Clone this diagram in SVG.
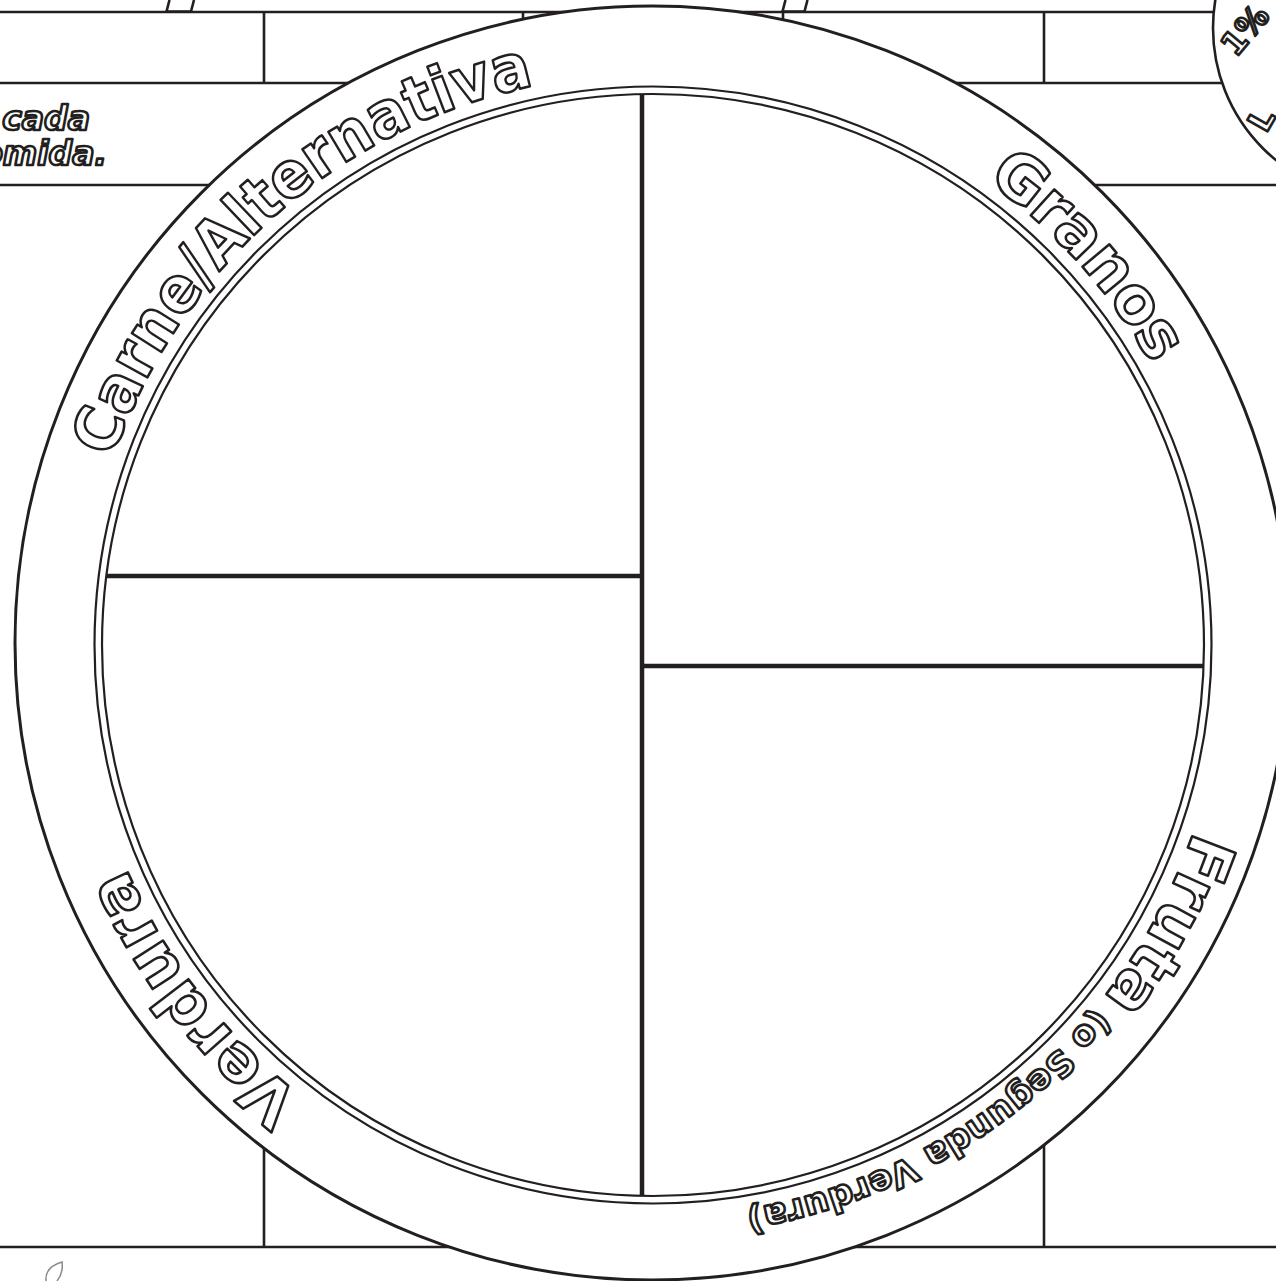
<svg xmlns="http://www.w3.org/2000/svg" width="1276" height="1281" viewBox="0 0 1276 1281">
<style>
.g{stroke:#231f20;stroke-width:2.6;fill:none}
.rim{stroke:#231f20;fill:none;stroke-width:2.2}
.div{stroke:#231f20;stroke-width:4.5;fill:none}
.ot{fill:#fff;stroke:#231f20;stroke-width:2.6;stroke-linejoin:round;font-family:"DejaVu Sans",Verdana,sans-serif;font-weight:bold}
.it{fill:#fff;stroke:#231f20;stroke-width:2.6;stroke-linejoin:round;font-family:"DejaVu Sans",Verdana,sans-serif;font-weight:bold;font-style:italic}
</style>
<defs>
<path id="ring" d="M81,645 A572,572 0 1 1 1225,645 A572,572 0 1 1 81,645"/>
</defs>
<rect width="1276" height="1281" fill="#fff"/>
<g id="grid">
<line class="g" x1="0" y1="12" x2="1276" y2="12"/>
<line class="g" x1="0" y1="83" x2="1276" y2="83"/>
<line class="g" x1="0" y1="185" x2="1276" y2="185"/>
<line class="g" x1="0" y1="1247" x2="1276" y2="1247"/>
<line class="g" x1="264" y1="12" x2="264" y2="83"/>
<line class="g" x1="523" y1="12" x2="523" y2="83"/>
<line class="g" x1="783" y1="12" x2="783" y2="83"/>
<line class="g" x1="1044" y1="12" x2="1044" y2="83"/>
<line class="g" x1="264" y1="1000" x2="264" y2="1247"/>
<line class="g" x1="523" y1="1000" x2="523" y2="1247"/>
<line class="g" x1="783" y1="1000" x2="783" y2="1247"/>
<line class="g" x1="1044" y1="1000" x2="1044" y2="1247"/>
<path class="g" d="M169.5,0 L166.5,11.5 L191,11.5 L194,0"/>
<path class="g" d="M785.5,0 L782.5,11.5 L804.5,11.5 L807.5,0"/>
</g>
<g id="instruction">
<text class="it" x="90" y="130" font-size="33" text-anchor="end">cada</text>
<text class="it" x="107" y="165" font-size="33" text-anchor="end">omida.</text>
</g>
<g id="plate">
<circle cx="652" cy="643" r="637" fill="#fff" stroke="#231f20" stroke-width="3"/>
<circle class="rim" cx="653" cy="645" r="558.5"/>
<circle class="rim" cx="653" cy="645" r="551"/>
</g>
<g id="dividers">
<line class="div" x1="642" y1="94" x2="642" y2="1196"/>
<line class="div" x1="106" y1="576" x2="642" y2="576"/>
<line class="div" x1="642" y1="666" x2="1204" y2="666"/>
</g>
<g id="labels">
<text class="ot" font-size="64"><textPath href="#ring" startOffset="190" textLength="589" lengthAdjust="spacingAndGlyphs">Carne/Alternativa</textPath></text>
<text class="ot" font-size="64"><textPath href="#ring" startOffset="1254" textLength="250" lengthAdjust="spacing">Granos</textPath></text>
<text class="ot" font-size="64"><textPath href="#ring" startOffset="1986" textLength="616" lengthAdjust="spacing">Fruta<tspan font-size="35"> (o Segunda Verdura)</tspan></textPath></text>
<text class="ot" font-size="64"><textPath href="#ring" startOffset="3073" textLength="292" lengthAdjust="spacing">Verdura</textPath></text>
</g>
<g id="medallion">
<circle cx="1383" cy="28" r="170" fill="#fff" stroke="#231f20" stroke-width="2.6"/>
<text class="ot" font-size="32" transform="translate(1236,58) rotate(-50)">1%</text>
<text class="ot" font-size="32" transform="translate(1266,134) rotate(-60)">L</text>
</g>
<path id="leaf" d="M46,1281 C45,1271 52,1265 62,1262 C63,1269 61,1276 57,1281" fill="none" stroke="#8a8a8a" stroke-width="1.5"/>
</svg>
